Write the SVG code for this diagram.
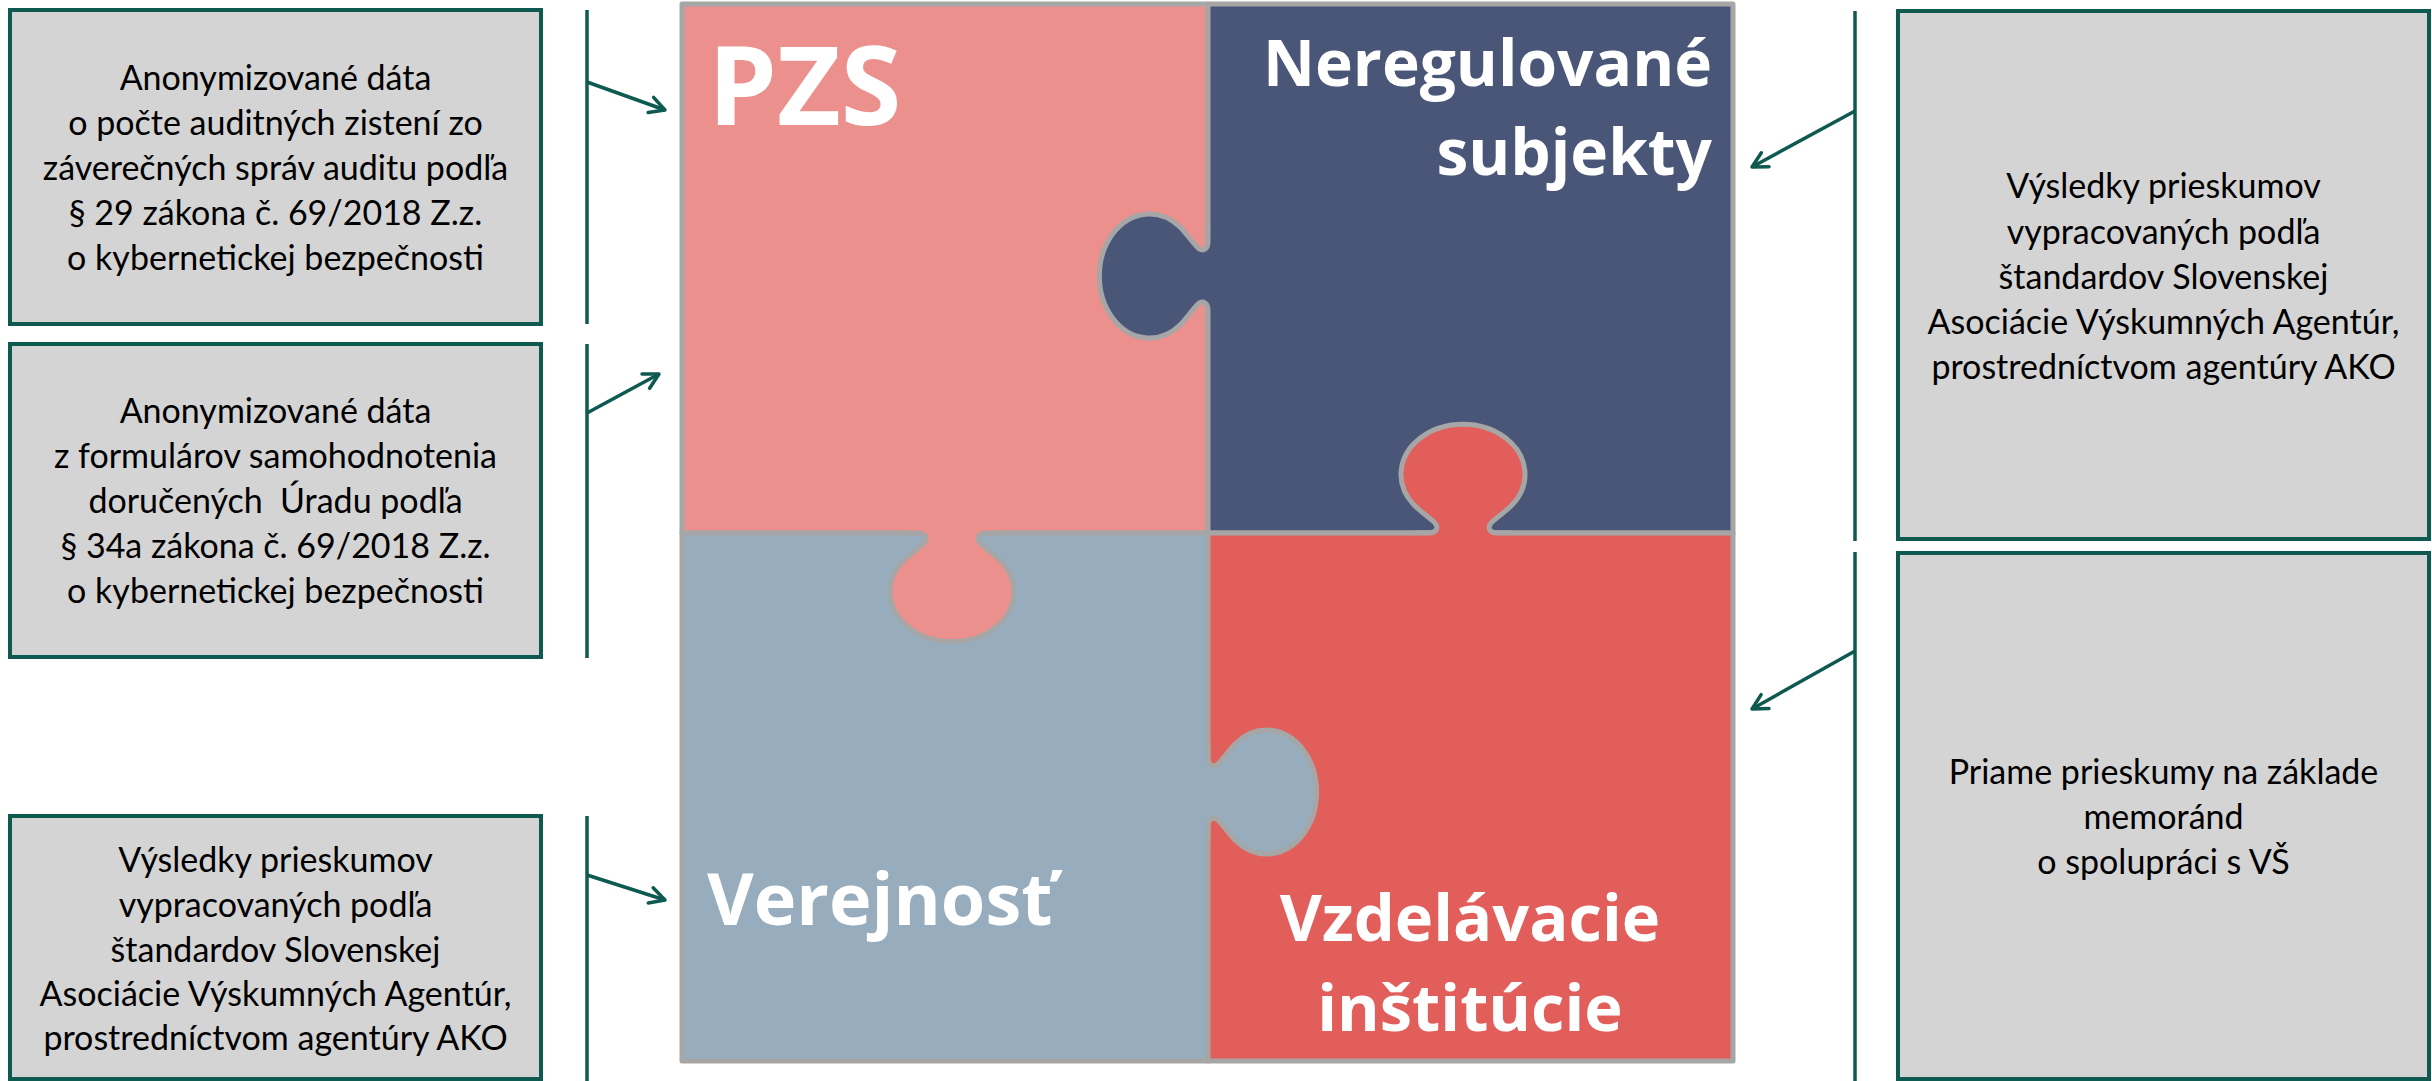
<svg xmlns="http://www.w3.org/2000/svg" xmlns:xlink="http://www.w3.org/1999/xlink" width="2432" height="1081" viewBox="0 0 2432 1081">
<style>
.box{fill:#D4D4D4;stroke:#0E5950;stroke-width:4}
.bt{font-family:Lato,"Open Sans","Liberation Sans",sans-serif;font-size:34px;fill:#000;text-anchor:middle}
.vl{stroke:#0E5950;stroke-width:3.5;fill:none}
.ar{stroke:#0E5950;stroke-width:3.5;fill:none;marker-end:url(#arr)}
.pc{stroke:#A6A6A6;stroke-width:5;stroke-linejoin:round}
.ks{fill:none;stroke:#A6A6A6;stroke-width:5;stroke-linejoin:round;stroke-linecap:round}
.lbl{font-family:"Open Sans","Noto Sans","DejaVu Sans",sans-serif;font-weight:700;fill:#fff}
</style>
<defs>
<marker id="arr" viewBox="0 0 24 24" refX="21" refY="12" markerWidth="24" markerHeight="24" orient="auto" markerUnits="userSpaceOnUse">
<path d="M6,4 L21,12 L6,20" fill="none" stroke="#0E5950" stroke-width="3.5" stroke-linecap="round" stroke-linejoin="round"/>
</marker>
<path id="kfill" d="M-48,0 L-34,0 C-27,0 -24,5 -28,10 C-34,16 -42,21 -49,28 A62 50 0 1 0 49,28 C42,21 34,16 28,10 C24,5 27,0 34,0 L48,0 L48,-7 L-48,-7 Z"/>
<path id="kline" d="M-48,0 L-34,0 C-27,0 -24,5 -28,10 C-34,16 -42,21 -49,28 A62 50 0 1 0 49,28 C42,21 34,16 28,10 C24,5 27,0 34,0 L48,0"/>
</defs>

<g id="connectors">
<line class="vl" x1="587" y1="10" x2="587" y2="324"/>
<line class="vl" x1="587" y1="344" x2="587" y2="658"/>
<line class="vl" x1="587" y1="816" x2="587" y2="1081"/>
<line class="vl" x1="1855" y1="11" x2="1855" y2="541"/>
<line class="vl" x1="1855" y1="552" x2="1855" y2="1081"/>
<line class="ar" x1="587" y1="82" x2="665" y2="110"/>
<line class="ar" x1="587" y1="413" x2="659" y2="374"/>
<line class="ar" x1="587" y1="875" x2="665" y2="900"/>
<line class="ar" x1="1855" y1="111" x2="1752" y2="167"/>
<line class="ar" x1="1855" y1="651" x2="1752" y2="709"/>
</g>

<g id="src-audit">
<rect class="box" x="10" y="10" width="531" height="314"/>
<text class="bt"><tspan x="275.5" y="90">Anonymizované dáta</tspan><tspan x="275.5" y="135">o počte auditných zistení zo</tspan><tspan x="275.5" y="180">záverečných správ auditu podľa</tspan><tspan x="275.5" y="225">§ 29 zákona č. 69/2018 Z.z.</tspan><tspan x="275.5" y="270">o kybernetickej bezpečnosti</tspan></text>
</g>

<g id="src-self">
<rect class="box" x="10" y="344" width="531" height="313"/>
<text class="bt" xml:space="preserve"><tspan x="275.5" y="423">Anonymizované dáta</tspan><tspan x="275.5" y="468">z formulárov samohodnotenia</tspan><tspan x="275.5" y="513">doručených  Úradu podľa</tspan><tspan x="275.5" y="558">§ 34a zákona č. 69/2018 Z.z.</tspan><tspan x="275.5" y="603">o kybernetickej bezpečnosti</tspan></text>
</g>

<g id="src-survey-left">
<rect class="box" x="10" y="816" width="531" height="263"/>
<text class="bt"><tspan x="275.5" y="872">Výsledky prieskumov</tspan><tspan x="275.5" y="917">vypracovaných podľa</tspan><tspan x="275.5" y="962">štandardov Slovenskej</tspan><tspan x="275.5" y="1006">Asociácie Výskumných Agentúr,</tspan><tspan x="275.5" y="1050">prostredníctvom agentúry AKO</tspan></text>
</g>

<g id="src-survey-right">
<rect class="box" x="1898" y="11" width="531" height="528"/>
<text class="bt"><tspan x="2163.5" y="198">Výsledky prieskumov</tspan><tspan x="2163.5" y="244">vypracovaných podľa</tspan><tspan x="2163.5" y="289">štandardov Slovenskej</tspan><tspan x="2163.5" y="334">Asociácie Výskumných Agentúr,</tspan><tspan x="2163.5" y="379">prostredníctvom agentúry AKO</tspan></text>
</g>

<g id="src-memo">
<rect class="box" x="1898" y="553" width="531" height="526"/>
<text class="bt"><tspan x="2163.5" y="784">Priame prieskumy na základe</tspan><tspan x="2163.5" y="829">memoránd</tspan><tspan x="2163.5" y="874">o spolupráci s VŠ</tspan></text>
</g>

<g id="puzzle">
<rect class="pc" x="682" y="4" width="526" height="529" fill="#EC908D"/>
<rect class="pc" x="1208" y="4" width="525" height="529" fill="#4A5677"/>
<rect class="pc" x="682" y="533" width="526" height="528" fill="#97ADBD"/>
<rect class="pc" x="1208" y="533" width="525" height="528" fill="#E25E5A"/>
<g transform="translate(1208,276) rotate(90)"><use xlink:href="#kfill" fill="#4A5677"/><use xlink:href="#kline" class="ks"/></g>
<g transform="translate(1463,533) rotate(180)"><use xlink:href="#kfill" fill="#E25E5A"/><use xlink:href="#kline" class="ks"/></g>
<g transform="translate(952,533)"><use xlink:href="#kfill" fill="#EC908D"/><use xlink:href="#kline" class="ks"/></g>
<g transform="translate(1208,792) rotate(-90)"><use xlink:href="#kfill" fill="#97ADBD"/><use xlink:href="#kline" class="ks"/></g>
</g>

<g id="piece-pzs"><text class="lbl" x="708" y="125" font-size="110" font-weight="600">PZS</text></g>
<g id="piece-neregulovane"><text class="lbl" font-size="64" text-anchor="end"><tspan x="1712" y="86">Neregulované</tspan><tspan x="1712" y="175">subjekty</tspan></text></g>
<g id="piece-verejnost"><text class="lbl" x="707" y="925" font-size="72">Verejnosť</text></g>
<g id="piece-vzdelavacie"><text class="lbl" font-size="65" text-anchor="middle"><tspan x="1470" y="941">Vzdelávacie</tspan><tspan x="1470" y="1031">inštitúcie</tspan></text></g>
</svg>
